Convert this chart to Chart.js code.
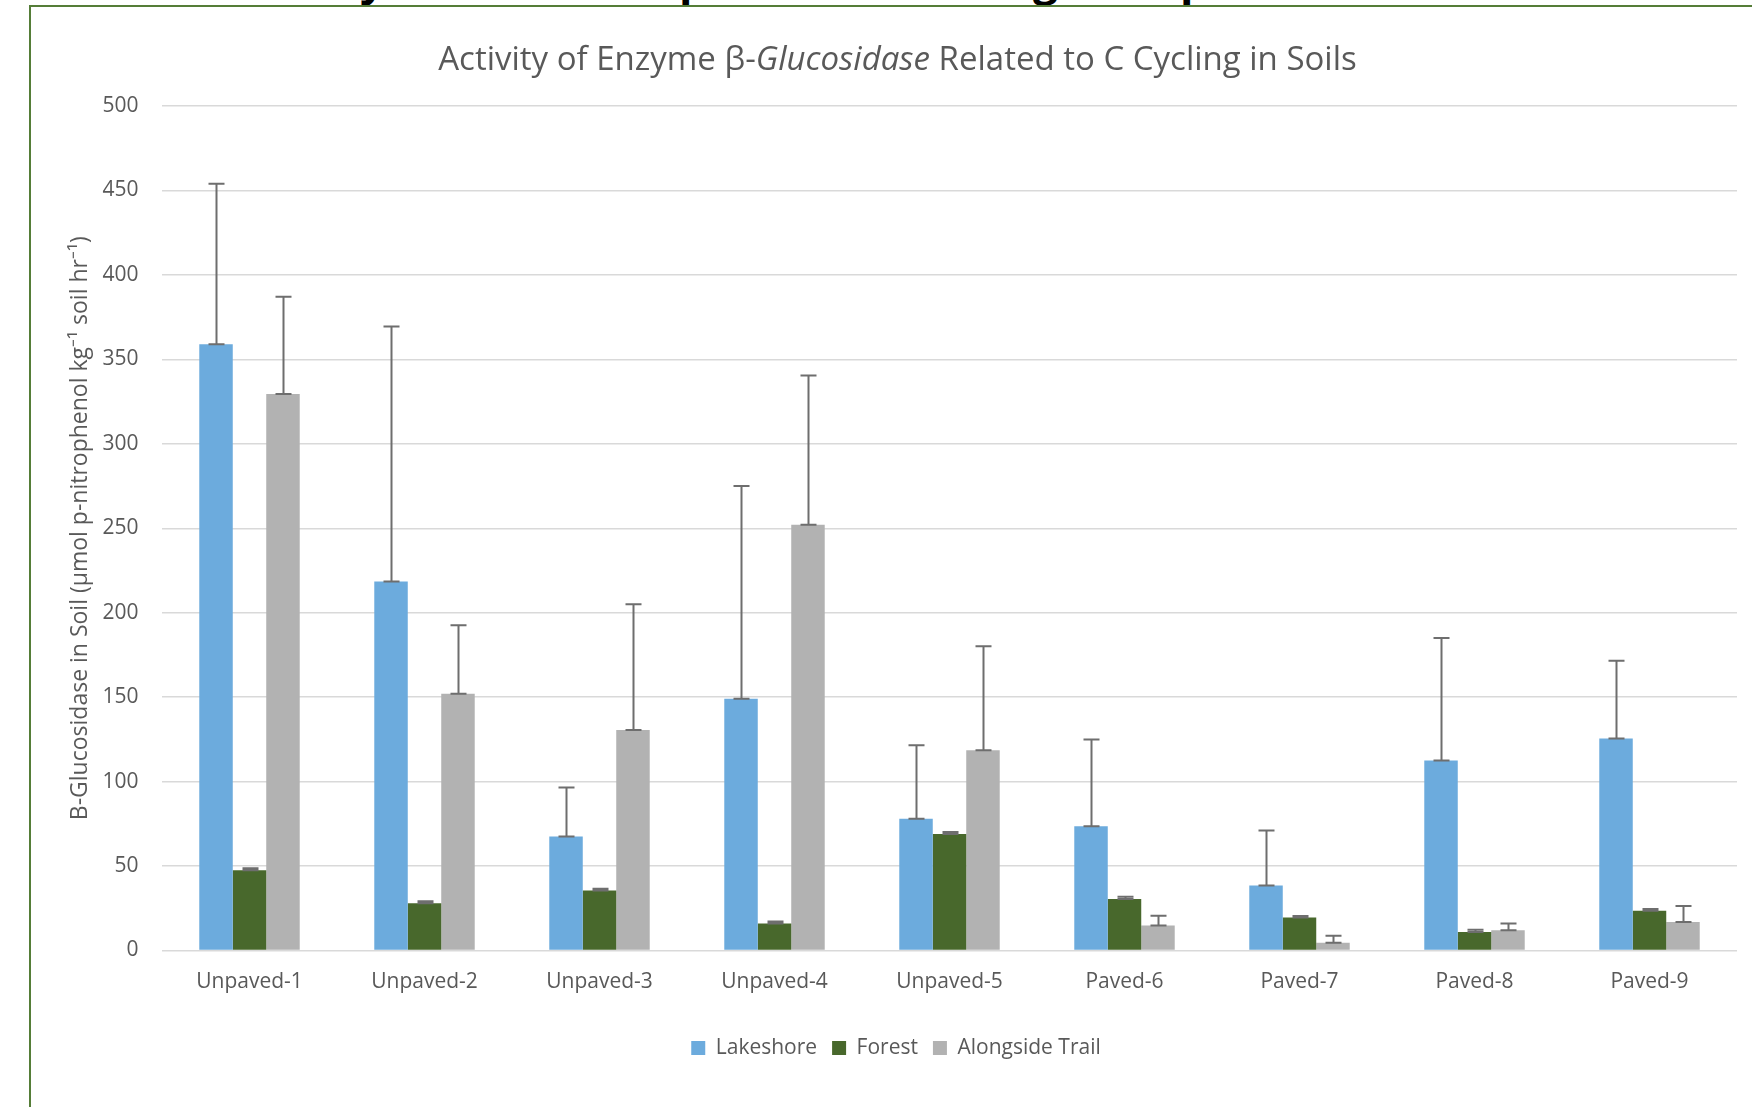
<!DOCTYPE html>
<html>
<head>
<meta charset="utf-8">
<script src="https://cdn.jsdelivr.net/npm/chart.js@4.4.1/dist/chart.umd.min.js"></script>
<style>
  html, body { margin: 0; padding: 0; background: #ffffff; overflow: hidden; }
  body { width: 1752px; height: 1107px; position: relative; }
  #frame { position: absolute; left: 29px; top: 5px; width: 1800px; height: 1200px;
           border-left: 2px solid #557d38; border-top: 2px solid #557d38; }
  #topcut { position: absolute; left: 0; top: 0; width: 1752px; height: 5px; overflow: hidden; }
  #topcut span { position: absolute; top: -44px; font: bold 44px 'Open Sans', sans-serif; line-height: 1; color: #000; }
  #c { position: absolute; left: 0; top: 0; }
</style>
</head>
<body>
<div id="frame"></div>
<div id="topcut"><span style="left:360px">y</span><span style="left:679px">p</span><span style="left:1033px">g</span><span style="left:1180px">p</span></div>
<canvas id="c" width="1752" height="1107"></canvas>
<script>
// ---- data ----
const categories = ['Unpaved-1', 'Unpaved-2', 'Unpaved-3', 'Unpaved-4', 'Unpaved-5', 'Paved-6', 'Paved-7', 'Paved-8', 'Paved-9'];
const seriesNames = ['Lakeshore', 'Forest', 'Alongside Trail'];
const lakeshore    = [359, 218.5, 67.5, 149, 78, 73.5, 38.5, 112.5, 125.5];
const lakeshoreErr = [95, 151, 29, 126, 43.5, 51.5, 32.5, 72.5, 46];
const forest       = [47.5, 28, 35.5, 16, 69, 30.5, 19.5, 11, 23.5];
const forestErr    = [1.2, 1.2, 1, 1.2, 1.2, 1.3, 1, 1.3, 1];
const trail        = [329.5, 152, 130.5, 252, 118.5, 14.8, 4.6, 12, 16.8];
const trailErr     = [57.5, 40.5, 74.5, 88.5, 61.7, 5.8, 4.2, 4, 9.5];
const yMin = 0, yMax = 500, yStep = 50;
const titleParts = [
  { text: 'Activity of Enzyme \u03B2-', italic: false },
  { text: 'Glucosidase', italic: true },
  { text: ' Related to C Cycling in Soils', italic: false }
];
const yAxisTitle = 'B-Glucosidase in Soil (\u00B5mol p-nitrophenol kg\u207B\u00B9 soil hr\u207B\u00B9)';

const FONT = "'Open Sans', sans-serif";
const TEXT = '#595959';
Chart.defaults.font.family = FONT;
Chart.defaults.color = TEXT;

const errorBarPlugin = {
  id: 'errorBars',
  afterDatasetsDraw(chart) {
    const ctx = chart.ctx;
    const yScale = chart.scales.y;
    ctx.save();
    ctx.strokeStyle = '#6e6e6e';
    ctx.lineWidth = 2;
    chart.data.datasets.forEach((ds, i) => {
      const meta = chart.getDatasetMeta(i);
      if (meta.hidden) return;
      meta.data.forEach((bar, j) => {
        const err = ds.errors[j];
        const yTop = yScale.getPixelForValue(ds.data[j] + err);
        const yBase = yScale.getPixelForValue(ds.data[j]);
        const x = Math.round(bar.x) + 0.5;
        const hw = 8;
        ctx.beginPath();
        ctx.moveTo(x, yBase);
        ctx.lineTo(x, yTop);
        ctx.moveTo(x - hw, yTop);
        ctx.lineTo(x + hw, yTop);
        ctx.moveTo(x - hw, yBase);
        ctx.lineTo(x + hw, yBase);
        ctx.stroke();
      });
    });
    ctx.restore();
  }
};

const titlePlugin = {
  id: 'mixedTitle',
  afterDraw(chart) {
    const ctx = chart.ctx;
    const size = 33;
    ctx.save();
    ctx.fillStyle = TEXT;
    ctx.textBaseline = 'alphabetic';
    ctx.textAlign = 'left';
    let total = 0;
    const widths = titleParts.map(p => {
      ctx.font = (p.italic ? 'italic ' : '') + size + 'px ' + FONT;
      const w = ctx.measureText(p.text).width;
      total += w;
      return w;
    });
    let x = 897.5 - total / 2;
    titleParts.forEach((p, k) => {
      ctx.font = (p.italic ? 'italic ' : '') + size + 'px ' + FONT;
      ctx.fillText(p.text, x, 70);
      x += widths[k];
    });
    ctx.restore();
  }
};

const colors = ['#6cabdd', '#48682c', '#b2b2b2'];
const values = [lakeshore, forest, trail];
const errs = [lakeshoreErr, forestErr, trailErr];

new Chart(document.getElementById('c'), {
  type: 'bar',
  data: {
    labels: categories,
    datasets: seriesNames.map((name, i) => ({
      label: name,
      data: values[i],
      errors: errs[i],
      backgroundColor: colors[i],
      borderWidth: 0,
      categoryPercentage: 0.574,
      barPercentage: 1.0
    }))
  },
  options: {
    responsive: false,
    animation: false,
    devicePixelRatio: 1,
    layout: { padding: { left: 55, right: 15, top: 106, bottom: 38.5 } },
    plugins: {
      title: { display: false },
      tooltip: { enabled: false },
      legend: {
        display: true,
        position: 'bottom',
        labels: {
          boxWidth: 14, boxHeight: 14, padding: 15,
          font: { size: 21, family: FONT }, color: TEXT
        }
      }
    },
    scales: {
      x: {
        grid: { display: false, drawTicks: false },
        border: { display: false },
        ticks: { font: { size: 21 }, color: TEXT, padding: 19, maxRotation: 0 },
        afterFit(scale) { scale.height = 72; }
      },
      y: {
        min: yMin, max: yMax,
        grid: { color: '#d9d9d9', lineWidth: 1.5, drawTicks: false },
        border: { display: false },
        ticks: { stepSize: yStep, font: { size: 21 }, color: TEXT, padding: 23.5 },
        title: { display: true, text: yAxisTitle, font: { size: 23 }, color: TEXT, padding: { top: 12, bottom: 0 } },
        afterFit(scale) { scale.width = 107; }
      }
    }
  },
  plugins: [errorBarPlugin, titlePlugin]
});
</script>
</body>
</html>
